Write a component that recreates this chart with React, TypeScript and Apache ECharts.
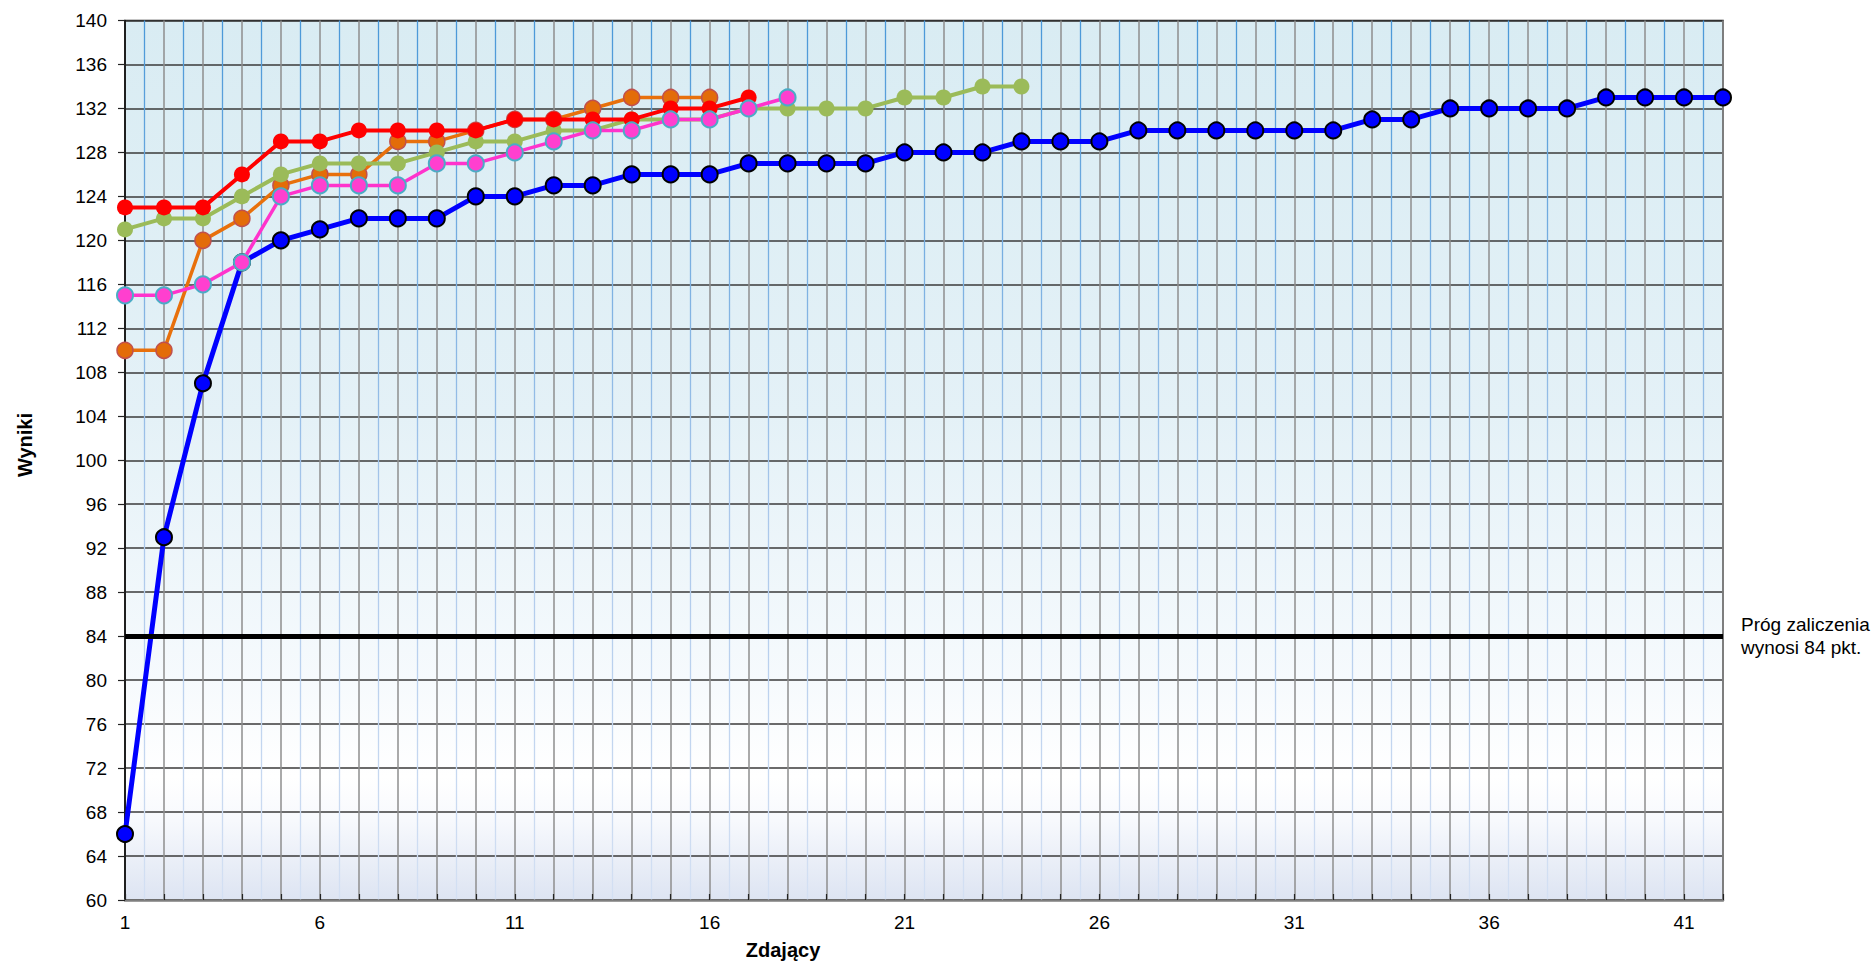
import React, { useEffect, useRef } from "react";
import * as echarts from "echarts";

const X_MIN = 1;
const X_MAX = 42;
const xTickLabels = ["1", "6", "11", "16", "21", "26", "31", "36", "41"];

const blueScores = [66, 93, 107, 118, 120, 121, 122, 122, 122, 124, 124, 125, 125, 126, 126, 126, 127, 127, 127, 127, 128, 128, 128, 129, 129, 129, 130, 130, 130, 130, 130, 130, 131, 131, 132, 132, 132, 132, 133, 133, 133, 133];
const orangeScores = [110, 110, 120, 122, 125, 126, 126, 129, 129, 130, 131, 131, 132, 133, 133, 133];
const greenScores = [121, 122, 122, 124, 126, 127, 127, 127, 128, 129, 129, 130, 130, 131, 131, 131, 132, 132, 132, 132, 133, 133, 134, 134];
const redScores = [123, 123, 123, 126, 129, 129, 130, 130, 130, 130, 131, 131, 131, 131, 132, 132, 133];
const pinkScores = [115, 115, 116, 118, 124, 125, 125, 125, 127, 127, 128, 129, 130, 130, 131, 131, 132, 133];

const THRESHOLD = 84;
const thresholdLabel = "Próg zaliczenia\nwynosi 84 pkt.";
const xTitle = "Zdający";
const yTitle = "Wyniki";

const toPairs = (arr: number[]) => arr.map((v, i) => [i + 1, v]);

export default function App() {
  const ref = useRef<HTMLDivElement>(null);
  useEffect(() => {
    if (!ref.current) return;
    const chart = echarts.init(ref.current, undefined, { renderer: "svg" });
    const font = "Liberation Sans, Arial, sans-serif";
    const mk = (
      name: string,
      data: number[],
      lineColor: string,
      lineWidth: number,
      fill: string,
      border: string,
      borderWidth: number,
      size: number,
      z: number,
      extra: any = {}
    ) => ({
      name,
      type: "line",
      data: toPairs(data),
      symbol: "circle",
      symbolSize: size,
      z,
      lineStyle: { color: lineColor, width: lineWidth },
      itemStyle: { color: fill, borderColor: border, borderWidth, opacity: 1 },
      emphasis: { disabled: true },
      ...extra,
    });
    chart.setOption({
      animation: false,
      grid: {
        left: 125,
        right: 151,
        top: 20.5,
        bottom: 65,
        show: true,
        borderColor: "#1a1a1a",
        borderWidth: 1.5,
        backgroundColor: new echarts.graphic.LinearGradient(0, 0, 0, 1, [
          { offset: 0, color: "#d9ecf3" },
          { offset: 0.45, color: "#e4f1f7" },
          { offset: 0.75, color: "#f6fafd" },
          { offset: 0.86, color: "#ffffff" },
          { offset: 0.91, color: "#f7f9fd" },
          { offset: 1, color: "#dde4f2" },
        ]),
      },
      xAxis: {
        type: "value",
        min: X_MIN,
        max: X_MAX,
        interval: 1,
        axisLine: { show: true, lineStyle: { color: "#7f7f7f", width: 2.5 } },
        axisTick: { show: true, inside: true, length: 6, lineStyle: { color: "#222", width: 1.2 } },
        axisLabel: {
          margin: 13,
          fontSize: 19,
          color: "#000",
          fontFamily: font,
          formatter: (v: number) => (xTickLabels.includes(String(v)) ? String(v) : ""),
        },
        splitLine: { show: true, lineStyle: { color: "#8e8e8e", width: 1.5 } },
        minorTick: { show: false, splitNumber: 2 },
        minorSplitLine: {
          show: true,
          lineStyle: {
            width: 1.3,
            color: new echarts.graphic.LinearGradient(
              0,
              20,
              0,
              900,
              [
                { offset: 0, color: "#4a98d8" },
                { offset: 0.55, color: "#a8c6ea" },
                { offset: 1, color: "#d4e0f3" },
              ],
              true
            ),
          },
        },
      },
      yAxis: {
        type: "value",
        min: 60,
        max: 140,
        interval: 4,
        axisLine: { show: true, lineStyle: { color: "#000", width: 1.5 } },
        axisTick: { show: true, inside: false, length: 7, lineStyle: { color: "#222", width: 1.2 } },
        axisLabel: { margin: 18, fontSize: 19, color: "#000", fontFamily: font },
        splitLine: { show: true, lineStyle: { color: "#3a3a3a", width: 1.5 } },
      },
      graphic: [
        {
          type: "text",
          x: 783,
          y: 950,
          style: {
            text: xTitle,
            fontSize: 20,
            fontWeight: "bold",
            fontFamily: font,
            fill: "#000",
            align: "center",
            verticalAlign: "middle",
          },
        },
        {
          type: "text",
          x: 25,
          y: 445,
          rotation: Math.PI / 2,
          style: {
            text: yTitle,
            fontSize: 20,
            fontWeight: "bold",
            fontFamily: font,
            fill: "#000",
            align: "center",
            verticalAlign: "middle",
          },
        },
      ],
      series: [
        mk("Seria 1", blueScores, "#0000ff", 5, "#0000ff", "#000000", 2, 16, 2, {
          markLine: {
            silent: true,
            symbol: "none",
            lineStyle: { color: "#000", width: 5, type: "solid" },
            label: {
              show: true,
              position: "end",
              distance: 18,
              formatter: thresholdLabel,
              fontSize: 19,
              lineHeight: 23,
              color: "#000",
              fontFamily: font,
              align: "left",
            },
            data: [{ yAxis: THRESHOLD }],
          },
        }),
        mk("Seria 2", orangeScores, "#e8700c", 3.5, "#e36c09", "#c0504d", 1.5, 16, 3),
        mk("Seria 3", greenScores, "#9bbb59", 4, "#9bbb59", "#9bbb59", 0, 16, 4),
        mk("Seria 4", redScores, "#ff0000", 4, "#ff0000", "#ff0000", 0, 16, 5),
        mk("Seria 5", pinkScores, "#ff33cc", 3.5, "#ff3fcf", "#4bacc6", 2, 16, 6),
      ],
    });
    return () => chart.dispose();
  }, []);
  return <div ref={ref} style={{ position: "absolute", left: 0, top: 0, width: 1874, height: 965 }} />;
}
